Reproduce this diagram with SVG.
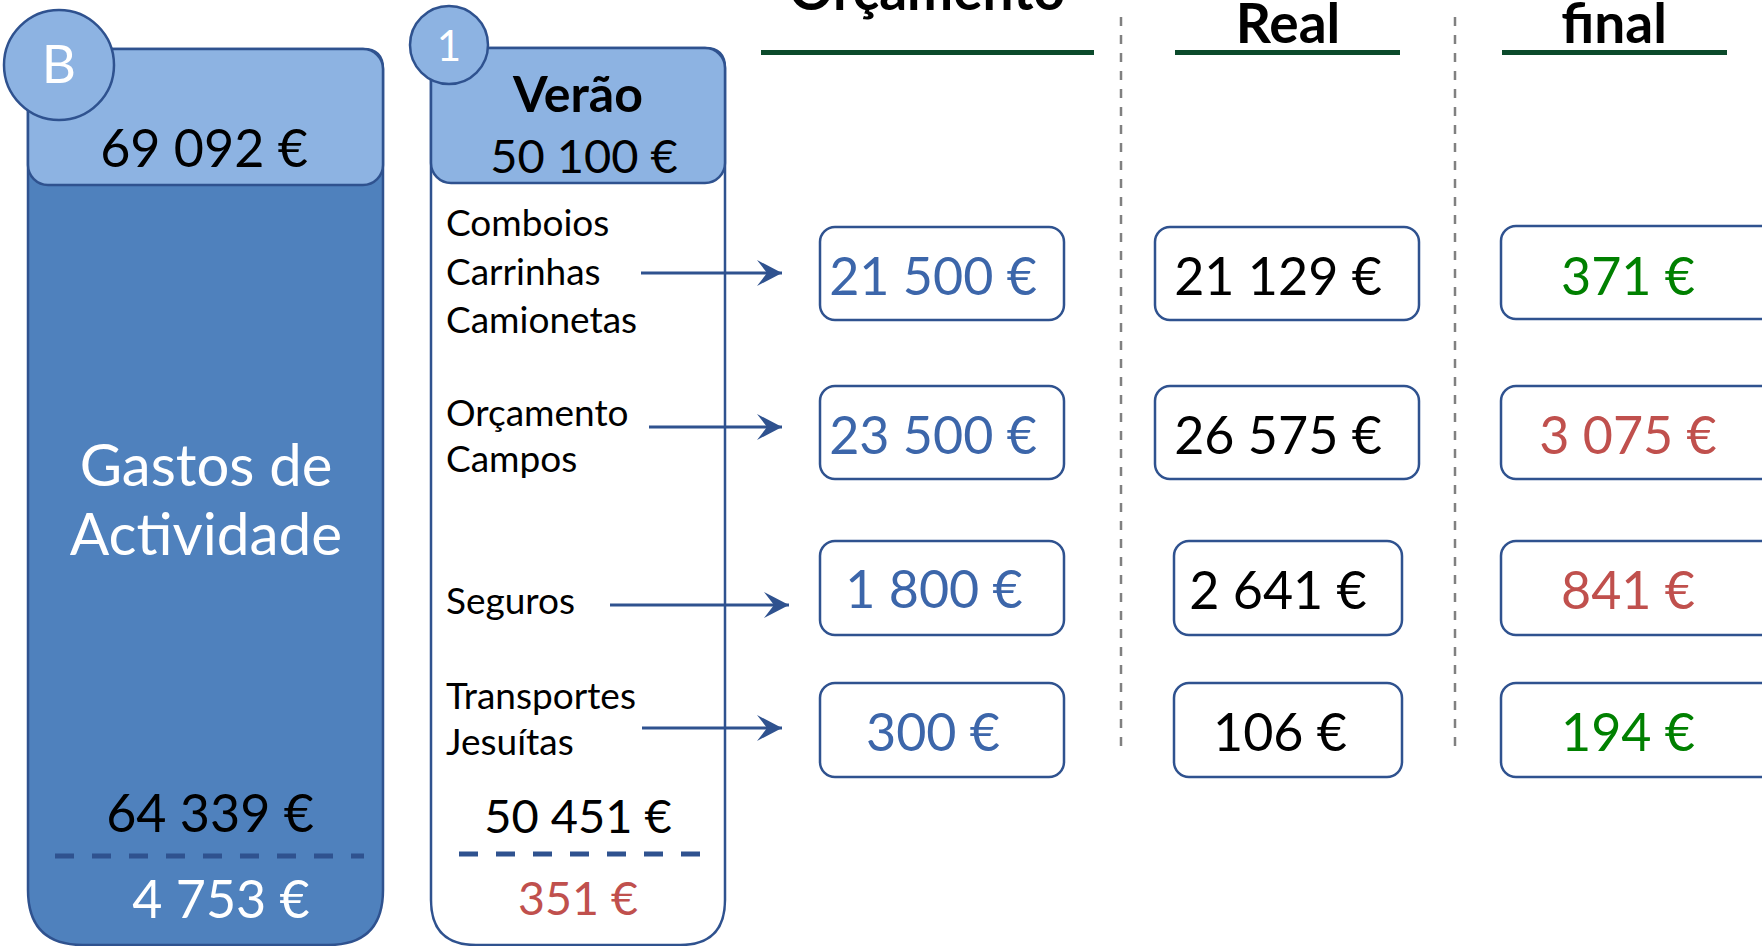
<svg xmlns="http://www.w3.org/2000/svg" width="1762" height="946" viewBox="0 0 1762 946">
<defs>
<style>
text{font-family:Lato,"Liberation Sans",sans-serif;}
.hd{font-weight:bold;font-size:55px;fill:#000;text-anchor:middle;}
.ul{stroke:#0b4a2b;stroke-width:5;}
.vd{stroke:#808080;stroke-width:2.5;stroke-dasharray:9 9;fill:none;}
.bx{fill:#fff;stroke:#2f528f;stroke-width:2.5;}
.num{font-size:52px;text-anchor:middle;}
.blue{fill:#3c66aa;}
.blk{fill:#000;}
.red{fill:#c0504d;}
.grn{fill:#008000;}
.item{font-size:37px;fill:#000;}
.arr{stroke:#2f528f;stroke-width:3.2;fill:none;}
.circ{fill:#8db3e2;stroke:#2f528f;stroke-width:2.5;}
.hdr{fill:#8db3e2;stroke:#2f528f;stroke-width:2.5;}
.dash{stroke:#2f528f;stroke-width:5;stroke-dasharray:19 18;}
</style>
<marker id="ah" markerUnits="userSpaceOnUse" markerWidth="30" markerHeight="30" viewBox="-27 -15 30 30" refX="0" refY="0" orient="auto">
<path d="M0,0 L-25,-13 L-15,0 L-25,13 Z" fill="#2f528f"/>
</marker>
</defs>

<g id="headers">
<text class="hd" x="927" y="10">Orçamento</text>
<line class="ul" x1="761" y1="52.5" x2="1094" y2="52.5"/>
<text class="hd" x="1288" y="43">Real</text>
<line class="ul" x1="1175" y1="52.5" x2="1400" y2="52.5"/>
<text class="hd" x="1614" y="43">final</text>
<line class="ul" x1="1502" y1="52.5" x2="1727" y2="52.5"/>
<line class="vd" x1="1121" y1="17" x2="1121" y2="754"/>
<line class="vd" x1="1455" y1="17" x2="1455" y2="754"/>
</g>

<g id="nodeB">
<path d="M28,69 Q28,49 48,49 L363,49 Q383,49 383,69 L383,890 Q383,945 328,945 L83,945 Q28,945 28,890 Z" fill="#4f81bd" stroke="#2f528f" stroke-width="2.5"/>
<rect class="hdr" x="28" y="49" width="355" height="136" rx="20" ry="20"/>
<text class="num blk" x="204" y="167">69 092 €</text>
<text x="206" y="486" font-size="58" fill="#fff" text-anchor="middle">Gastos de</text>
<text x="206" y="555" font-size="58.5" fill="#fff" text-anchor="middle">Actividade</text>
<text class="num blk" x="210" y="832">64 339 €</text>
<line class="dash" x1="55" y1="856" x2="364" y2="856"/>
<text class="num" fill="#fff" x="221" y="918">4 753 €</text>
<circle class="circ" cx="59" cy="65" r="55"/>
<text x="59" y="83" font-size="53" fill="#fff" text-anchor="middle">B</text>
</g>

<g id="node1">
<path d="M431,68 Q431,48 451,48 L705,48 Q725,48 725,68 L725,900 Q725,945 680,945 L476,945 Q431,945 431,900 Z" class="bx"/>
<rect class="hdr" x="431" y="48" width="294" height="135" rx="20" ry="20"/>
<text x="578" y="112" font-size="50" font-weight="bold" fill="#000" text-anchor="middle">Verão</text>
<text x="584" y="173" font-size="47" fill="#000" text-anchor="middle">50 100 €</text>
<text class="item" x="446" y="236">Comboios</text>
<text class="item" x="446" y="285">Carrinhas</text>
<text class="item" x="446" y="333">Camionetas</text>
<text class="item" x="446" y="426">Orçamento</text>
<text class="item" x="446" y="472">Campos</text>
<text class="item" x="446" y="614">Seguros</text>
<text class="item" x="446" y="709">Transportes</text>
<text class="item" x="446" y="755">Jesuítas</text>
<text x="578" y="833" font-size="47" fill="#000" text-anchor="middle">50 451 €</text>
<line class="dash" x1="459" y1="854" x2="704" y2="854"/>
<text x="578" y="915" font-size="46.5" class="red" text-anchor="middle">351 €</text>
<circle class="circ" cx="449" cy="45" r="39"/>
<text x="449" y="61" font-size="42" fill="#fff" text-anchor="middle">1</text>
</g>

<g id="connectors">
<line class="arr" x1="641" y1="273" x2="782" y2="273" marker-end="url(#ah)"/>
<line class="arr" x1="649" y1="427" x2="782" y2="427" marker-end="url(#ah)"/>
<line class="arr" x1="610" y1="605" x2="789" y2="605" marker-end="url(#ah)"/>
<line class="arr" x1="642" y1="728" x2="782" y2="728" marker-end="url(#ah)"/>
</g>

<g id="orc1"><rect class="bx" x="820" y="227" width="244" height="93" rx="15"/><text class="num blue" x="933" y="295">21 500 €</text></g>
<g id="orc2"><rect class="bx" x="820" y="386" width="244" height="93" rx="15"/><text class="num blue" x="933" y="454">23 500 €</text></g>
<g id="orc3"><rect class="bx" x="820" y="541" width="244" height="94" rx="15"/><text class="num blue" x="934" y="608">1 800 €</text></g>
<g id="orc4"><rect class="bx" x="820" y="683" width="244" height="94" rx="15"/><text class="num blue" x="933" y="751">300 €</text></g>

<g id="real1"><rect class="bx" x="1155" y="227" width="264" height="93" rx="15"/><text class="num blk" x="1278" y="295">21 129 €</text></g>
<g id="real2"><rect class="bx" x="1155" y="386" width="264" height="93" rx="15"/><text class="num blk" x="1278" y="454">26 575 €</text></g>
<g id="real3"><rect class="bx" x="1174" y="541" width="228" height="94" rx="15"/><text class="num blk" x="1278" y="609">2 641 €</text></g>
<g id="real4"><rect class="bx" x="1174" y="683" width="228" height="94" rx="15"/><text class="num blk" x="1280" y="751">106 €</text></g>

<g id="fin1"><rect class="bx" x="1501" y="226" width="300" height="93" rx="15"/><text class="num grn" x="1628" y="295">371 €</text></g>
<g id="fin2"><rect class="bx" x="1501" y="386" width="300" height="93" rx="15"/><text class="num red" x="1628" y="454">3 075 €</text></g>
<g id="fin3"><rect class="bx" x="1501" y="541" width="300" height="94" rx="15"/><text class="num red" x="1628" y="609">841 €</text></g>
<g id="fin4"><rect class="bx" x="1501" y="683" width="300" height="94" rx="15"/><text class="num grn" x="1628" y="751">194 €</text></g>
</svg>
